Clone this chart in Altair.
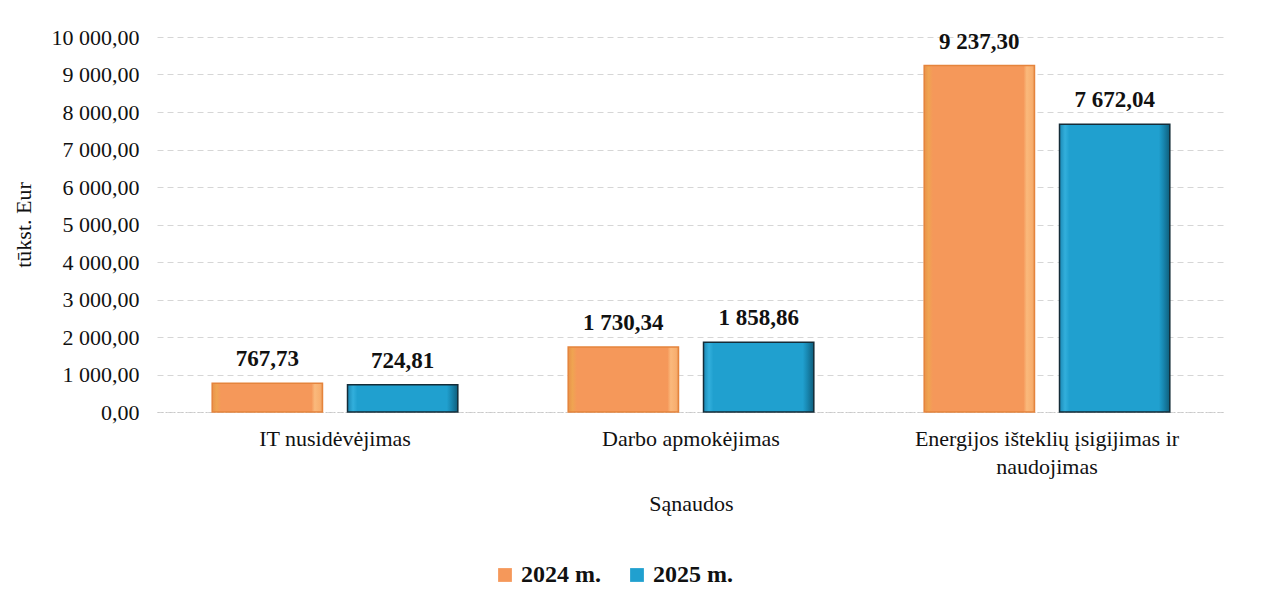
import altair as alt
import pandas as pd

categories = ["IT nusidėvėjimas", "Darbo apmokėjimas", "Energijos išteklių įsigijimas ir naudojimas"]
years = ["2024 m.", "2025 m."]
values_2024 = [767.73, 1730.34, 9237.30]
values_2025 = [724.81, 1858.86, 7672.04]
face_colors = ["#F5985A", "#20A0CF"]
strokes = ["#E5843C", "#142C38"]

rows = []
for c, v in zip(categories, values_2024):
    rows.append({"cat": c, "year": years[0], "val": v})
for c, v in zip(categories, values_2025):
    rows.append({"cat": c, "year": years[1], "val": v})
df = pd.DataFrame(rows)

FONT = "Liberation Serif"


def grad(stops):
    return alt.LinearGradient(gradient="linear", x1=0, x2=1, y1=0, y2=0,
                              stops=[alt.GradientStop(offset=o, color=c) for o, c in stops])


orange_grad = grad([(0, "#E8924A"), (0.04, "#F0A452"), (0.08, "#F5985A"), (0.90, "#F5985A"),
                    (0.93, "#FAB97C"), (0.98, "#F8AE6E"), (1, "#E89C5C")])
blue_grad = grad([(0, "#1A88B4"), (0.05, "#32AFDC"), (0.09, "#20A0CF"), (0.90, "#20A0CF"),
                  (0.94, "#1888B2"), (1, "#0F5E7C")])

x = alt.X("cat:N", sort=categories,
          scale=alt.Scale(paddingInner=0.31, paddingOuter=0.155),
          axis=alt.Axis(title="Sąnaudos", labelAngle=0, labelFontSize=22, titleFontSize=22,
                        labelFont=FONT, titleFont=FONT, titleFontWeight="normal",
                        labelColor="#111", titleColor="#111", labelLimit=0,
                        labelPadding=16, titlePadding=16, labelLineHeight=28,
                        ticks=False, domain=True, domainColor="#C8C8C8", domainDash=[2, 2],
                        labelExpr="datum.label == 'Energijos išteklių įsigijimas ir naudojimas' ? ['Energijos išteklių įsigijimas ir', 'naudojimas'] : datum.label"))
xo = alt.XOffset("year:N", sort=years, scale=alt.Scale(paddingInner=0.185, paddingOuter=0))
y = alt.Y("val:Q", scale=alt.Scale(domain=[0, 10000]),
          axis=alt.Axis(title="tūkst. Eur", values=list(range(0, 10001, 1000)), format=",.2f",
                        labelFontSize=22, titleFontSize=22, labelFont=FONT, titleFont=FONT,
                        titleFontWeight="normal", labelColor="#111", titleColor="#111",
                        ticks=False, domain=False, labelPadding=18, titlePadding=16,
                        grid=True, gridColor="#D6D6D6", gridDash=[6, 4]))

base = alt.Chart(df).encode(x=x, xOffset=xo, y=y)

bars = base.mark_bar().encode(
    color=alt.Color("year:N", sort=years, scale=alt.Scale(domain=years, range=face_colors),
                    legend=alt.Legend(title=None, orient="none", legendX=336, legendY=526,
                                      direction="horizontal", symbolType="square", symbolSize=190,
                                      labelFont=FONT, labelFontSize=24, labelFontWeight="bold",
                                      labelColor="#111", columnPadding=24, labelOffset=4,
                                      symbolStrokeWidth=0)),
)

g2024 = base.transform_filter(alt.datum.year == years[0]).mark_bar(
    fill=orange_grad, stroke=strokes[0], strokeWidth=1.5)
g2025 = base.transform_filter(alt.datum.year == years[1]).mark_bar(
    fill=blue_grad, stroke=strokes[1], strokeWidth=1.5)

labels = base.mark_text(dy=-24, baseline="middle", fontSize=23, fontWeight="bold",
                        font=FONT, color="#111").encode(
    text=alt.Text("val:Q", format=",.2f"))

chart = alt.layer(bars, g2024, g2025, labels).properties(
    width=1068, height=375,
    autosize=alt.AutoSizeParams(type="none"),
    padding={"left": 149, "top": 29, "right": 10, "bottom": 190},
).configure(
    locale={"number": {"decimal": ",", "thousands": " ", "grouping": [3], "currency": ["", ""]}}
).configure_view(stroke=None)

chart.save("out.html", embed_options={"renderer": "svg", "actions": False})
